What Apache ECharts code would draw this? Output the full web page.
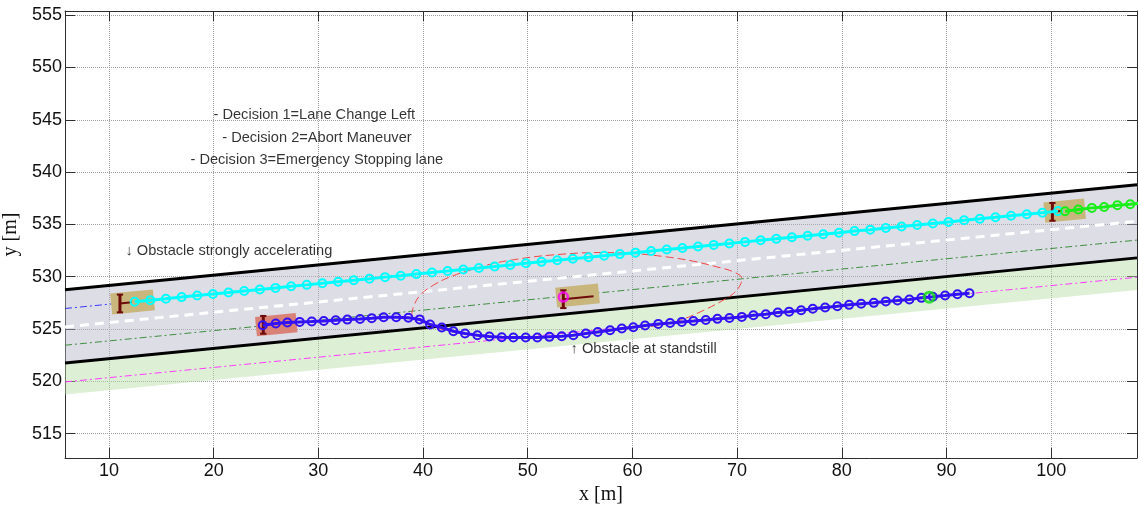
<!DOCTYPE html>
<html><head><meta charset="utf-8">
<script src="https://cdn.jsdelivr.net/npm/echarts@6/dist/echarts.min.js"></script>
<style>html,body{margin:0;padding:0;background:#fff}#c{width:1138px;height:507px}</style>
</head><body><div id="c"></div>
<script>
// ---- axes / ticks ----
const xTicks = [10, 20, 30, 40, 50, 60, 70, 80, 90, 100];
const yTicks = [515, 520, 525, 530, 535, 540, 545, 550, 555];
const xRange = [5.8, 108.2];
const yRange = [512.67, 555.4];

// ---- road geometry (y at left / right plot edge) ----
const roadX = [5.8, 108.2];
const upperEdge = [528.75, 538.8];
const leftLaneCenter = [526.96, 537.0];
const laneMarking = [525.2, 535.3];
const rightLaneCenter = [523.45, 533.5];
const lowerEdge = [521.75, 531.8];
const stopLaneCenter = [519.94, 529.95];
const shoulderEdge = [518.74, 528.72];
const roadSlope = 0.098;

// ---- trajectories ----
const cyanX = [12.45,13.95,15.44,16.94,18.43,19.93,21.42,22.92,24.41,25.91,27.40,28.90,30.39,31.89,33.38,34.88,36.37,37.87,39.36,40.86,42.35,43.85,45.34,46.84,48.33,49.83,51.32,52.82,54.31,55.81,57.30,58.80,60.29,61.79,63.28,64.78,66.27,67.77,69.26,70.76,72.25,73.75,75.24,76.74,78.23,79.73,81.22,82.72,84.21,85.71,87.20,88.70,90.19,91.69,93.18,94.68,96.17,97.67,99.16,100.66];
const cyanY = [527.61,527.76,527.90,528.05,528.20,528.34,528.49,528.64,528.78,528.93,529.08,529.22,529.37,529.52,529.66,529.81,529.96,530.10,530.25,530.40,530.54,530.69,530.84,530.98,531.13,531.28,531.42,531.57,531.72,531.86,532.01,532.16,532.30,532.45,532.60,532.74,532.89,533.04,533.18,533.33,533.48,533.62,533.77,533.92,534.06,534.21,534.36,534.50,534.65,534.80,534.94,535.09,535.24,535.39,535.53,535.68,535.83,535.97,536.12,536.27];

const greenX = [101.33, 102.6, 103.89, 105.06, 106.33, 107.55, 108.8];
const greenY = [536.26, 536.42, 536.58, 536.67, 536.84, 536.93, 537.05];

const blueX = [24.69,25.93,27.04,28.22,29.37,30.52,31.66,32.77,33.98,35.10,36.24,37.44,38.60,39.68,40.67,41.79,42.90,44.01,45.19,46.34,47.52,48.63,49.81,50.92,52.07,53.25,54.36,55.55,56.69,57.87,58.99,60.09,61.21,62.47,63.60,64.72,65.83,67.01,68.12,69.27,70.45,71.56,72.74,73.89,74.97,76.12,77.23,78.41,79.58,80.70,81.85,83.06,84.21,85.32,86.46,87.61,88.70,89.87,91.05,92.20];
const blueY = [525.36,525.52,525.62,525.68,525.71,525.77,525.84,525.90,525.96,526.03,526.12,526.13,526.08,525.92,525.43,525.14,524.79,524.57,524.41,524.28,524.22,524.19,524.19,524.19,524.25,524.31,524.41,524.57,524.72,524.89,525.05,525.17,525.34,525.49,525.58,525.68,525.77,525.87,525.97,526.06,526.16,526.32,526.42,526.58,526.66,526.80,526.93,527.06,527.18,527.31,527.41,527.50,527.64,527.73,527.83,527.98,528.08,528.20,528.33,528.42];

const planX = [38.92,39.08,39.72,40.99,42.58,44.49,46.72,48.95,52.14,56.91,60.07,63.29,65.83,68.06,69.65,70.45,70.29,69.65,68.38,66.47,64.55,62.64,60.0,57.0,54.0,50.0,46.0,43.0,40.5,38.92];
const planY = [526.32,527.11,528.23,529.19,529.98,530.62,531.26,531.67,532.06,532.31,532.22,531.89,531.48,530.94,530.46,529.83,529.19,528.39,527.59,526.63,525.84,525.36,525.15,524.80,524.40,524.20,524.30,524.70,525.40,526.32];

// ---- obstacles / vehicles ----
const boxCX = [12.25, 25.98, 54.76, 101.29];
const boxCY = [527.59, 525.42, 528.2, 536.31];
const boxLen = [4.1, 3.9, 4.1, 3.9];
const boxWid = [2.0, 1.85, 1.9, 1.95];
const boxColor = ['#c9b67d', '#d98378', '#c9b67d', '#c9b67d'];

const vehX = [11.05, 24.74, 53.4, 100.12];
const vehY = [527.44, 525.40, 527.85, 536.2];
const vehHead = [1.15, 1.2, 2.9, 0.9];

const magentaPt = [53.4, 528.05];
const greenPt = [88.35, 528.04];

// ---- annotations ----
const noteText = ['- Decision 1=Lane Change Left', '- Decision 2=Abort Maneuver', '- Decision 3=Emergency Stopping lane', '\u2193 Obstacle strongly accelerating', '\u2191 Obstacle at standstill'];
const noteX = [19.94, 20.77, 17.74, 11.53, 54.05];
const noteY = [545.44, 543.31, 541.14, 532.47, 523.13];

const zip = (a, b) => a.map((v, i) => [v, b[i]]);
const th = Math.atan(roadSlope), c = Math.cos(th), s = Math.sin(th);

function band(top, bot, fill) {
  return {
    type: 'custom', silent: true, z: 1, data: [[roadX[0], top[0]]],
    renderItem: (p, api) => ({
      type: 'polygon',
      shape: { points: [api.coord([roadX[0], top[0]]), api.coord([roadX[1], top[1]]), api.coord([roadX[1], bot[1]]), api.coord([roadX[0], bot[0]])] },
      style: { fill: fill }
    })
  };
}
function roadLine(arr, color, width, type) {
  return {
    type: 'line', silent: true, z: 2, symbol: 'none', animation: false,
    data: zip(roadX, arr),
    lineStyle: { color: color, width: width, type: type }
  };
}
const dashDot = [7, 3, 2, 3];

const boxSeries = {
  type: 'custom', silent: true, z: 4,
  data: boxCX.map((v, i) => [v, boxCY[i]]),
  renderItem: (p, api) => {
    const i = p.dataIndex, cx = boxCX[i], cy = boxCY[i], hl = boxLen[i] / 2, hw = boxWid[i] / 2;
    const pts = [[-hl, -hw], [hl, -hw], [hl, hw], [-hl, hw]].map(q => api.coord([cx + q[0] * c - q[1] * s, cy + q[0] * s + q[1] * c]));
    return { type: 'polygon', shape: { points: pts }, style: { fill: boxColor[i] } };
  }
};
const vehColor = '#6e0b0b';
const vehSeries = {
  type: 'custom', silent: true, z: 5,
  data: vehX.map((v, i) => [v, vehY[i]]),
  renderItem: (p, api) => {
    const i = p.dataIndex, x = vehX[i], y = vehY[i], h = 0.85, w = 0.3;
    const P = q => api.coord(q);
    const seg = (a, b, lw) => ({ type: 'line', shape: { x1: P(a)[0], y1: P(a)[1], x2: P(b)[0], y2: P(b)[1] }, style: { stroke: vehColor, lineWidth: lw } });
    return {
      type: 'group', children: [
        seg([x, y - h], [x, y + h], 3),
        seg([x - w, y + h], [x + w, y + h], 2),
        seg([x - w, y - h], [x + w, y - h], 2),
        seg([x, y], [x + vehHead[i] * c, y + vehHead[i] * s], 2)
      ]
    };
  }
};

function traj(xs, ys, color, z) {
  return {
    type: 'line', silent: true, z: z, animation: false,
    data: zip(xs, ys), symbol: 'circle', symbolSize: 8, showAllSymbol: true,
    lineStyle: { color: color, width: 3 },
    itemStyle: { color: 'rgba(255,255,255,0)', borderColor: color, borderWidth: 2 }
  };
}

const chart = echarts.init(document.getElementById('c'), null, { renderer: 'canvas' });
const axisCol = '#2e2e2e';
const labelFont = { fontFamily: 'Liberation Sans, Arial, sans-serif', fontSize: 18, color: '#111' };

chart.setOption({
  animation: false,
  backgroundColor: '#fff',
  grid: { left: 65, right: 1, top: 11, bottom: 49, containLabel: false, outerBoundsMode: 'none' },
  xAxis: [{
    type: 'value', min: xRange[0], max: xRange[1], splitNumber: 10,
    name: 'x [m]', nameLocation: 'middle', nameGap: 25,
    nameTextStyle: { fontFamily: 'Liberation Serif, Times New Roman, serif', fontSize: 20, color: '#111' },
    axisLine: { show: true, lineStyle: { color: axisCol, width: 1 } },
    axisTick: { show: true, inside: true, length: 10, customValues: xTicks, lineStyle: { color: axisCol } },
    axisLabel: Object.assign({ customValues: xTicks, margin: 4 }, labelFont),
    splitLine: { show: true, lineStyle: { color: '#a0a0a0', type: 'dotted', width: 1 } }
  }, {
    type: 'value', position: 'top', min: xRange[0], max: xRange[1], splitNumber: 10,
    axisLine: { show: true, lineStyle: { color: axisCol, width: 1 } },
    axisTick: { show: true, inside: true, length: 10, customValues: xTicks, lineStyle: { color: axisCol } },
    axisLabel: { show: false }, splitLine: { show: false }
  }],
  yAxis: [{
    type: 'value', min: yRange[0], max: yRange[1], splitNumber: 8,
    name: 'y [m]', nameLocation: 'middle', nameGap: 37, nameRotate: 90,
    nameTextStyle: { fontFamily: 'Liberation Serif, Times New Roman, serif', fontSize: 20, color: '#111' },
    axisLine: { show: true, lineStyle: { color: axisCol, width: 1 } },
    axisTick: { show: true, inside: true, length: 10, customValues: yTicks, lineStyle: { color: axisCol } },
    axisLabel: Object.assign({ customValues: yTicks, margin: 3 }, labelFont),
    splitLine: { show: true, lineStyle: { color: '#a0a0a0', type: 'dotted', width: 1 } }
  }, {
    type: 'value', position: 'right', min: yRange[0], max: yRange[1], splitNumber: 8,
    axisLine: { show: true, lineStyle: { color: axisCol, width: 1 } },
    axisTick: { show: true, inside: true, length: 10, customValues: yTicks, lineStyle: { color: axisCol } },
    axisLabel: { show: false }, splitLine: { show: false }
  }],
  series: [
    band(upperEdge, lowerEdge, 'rgba(180,180,200,0.45)'),
    band(lowerEdge, shoulderEdge, 'rgba(179,219,162,0.45)'),
    roadLine(leftLaneCenter, '#3a3aff', 1, dashDot),
    roadLine(rightLaneCenter, '#3f8f3f', 1, dashDot),
    roadLine(stopLaneCenter, '#ff3cff', 1, dashDot),
    roadLine(laneMarking, '#ffffff', 3, [9, 6]),
    roadLine(upperEdge, '#000000', 3, 'solid'),
    roadLine(lowerEdge, '#000000', 3, 'solid'),
    {
      type: 'line', silent: true, z: 3, symbol: 'none', smooth: 0.4,
      data: zip(planX, planY), lineStyle: { color: '#f24545', width: 1, type: [8, 4] }
    },
    boxSeries,
    vehSeries,
    traj(cyanX, cyanY, '#00ffff', 6),
    traj(greenX, greenY, '#19ee19', 6),
    traj(blueX, blueY, '#3311f5', 7),
    {
      type: 'scatter', silent: true, z: 8, symbol: 'circle', symbolSize: 9,
      data: [magentaPt], itemStyle: { color: 'rgba(255,255,255,0)', borderColor: '#ff00ff', borderWidth: 2.5 }
    },
    {
      type: 'scatter', silent: true, z: 8, symbol: 'circle', symbolSize: 10,
      data: [greenPt], itemStyle: { color: 'rgba(255,255,255,0)', borderColor: '#11dd11', borderWidth: 3 }
    },
    {
      type: 'scatter', silent: true, z: 9, symbol: 'circle', symbolSize: 1,
      itemStyle: { color: 'rgba(0,0,0,0)' },
      data: noteText.map((t, i) => ({ value: [noteX[i], noteY[i]], name: t })),
      label: {
        show: true, position: 'right', distance: 0, formatter: p => p.name,
        fontFamily: 'Liberation Sans, Arial, sans-serif', fontSize: 14.6, color: '#000'
      }
    }
  ]
});
</script></body></html>
